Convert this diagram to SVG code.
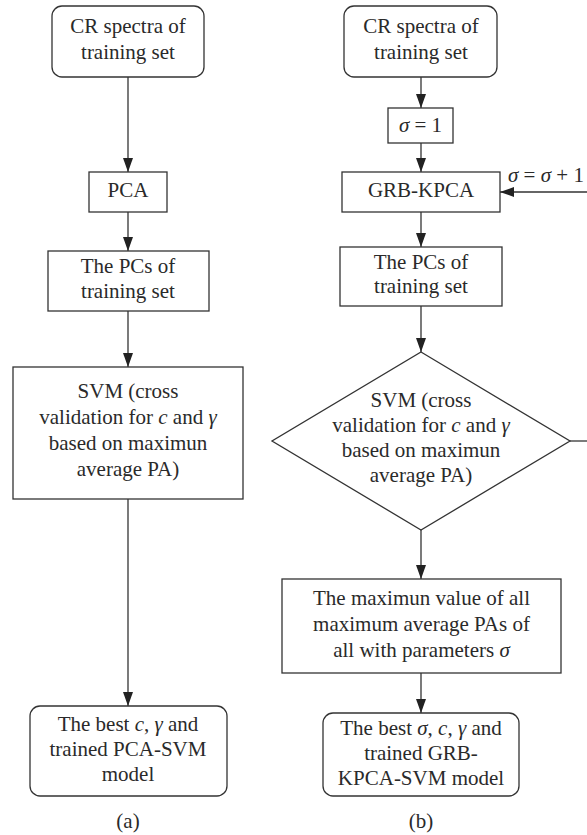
<svg xmlns="http://www.w3.org/2000/svg" width="587" height="835" viewBox="0 0 587 835" font-family="'Liberation Serif', serif">
<style>
.box{fill:#fff;stroke:#333;stroke-width:1.3}
.ln{fill:none;stroke:#333;stroke-width:1.3}
text{font-family:'Liberation Serif',serif;font-size:21px;fill:#2a2a2a;text-anchor:middle}
.i{font-style:italic}
.s{text-anchor:start}
</style>
<defs>
<marker id="ah" markerWidth="14" markerHeight="10" refX="14" refY="5" orient="auto" markerUnits="userSpaceOnUse">
<path d="M0,0 L14,5 L0,10 Z" fill="#222"/>
</marker>
</defs>
<rect width="587" height="835" fill="#fff"/>
<g id="connectors">
<line class="ln" x1="128" y1="77" x2="128" y2="172" marker-end="url(#ah)"/>
<line class="ln" x1="128" y1="212" x2="128" y2="251" marker-end="url(#ah)"/>
<line class="ln" x1="128" y1="311" x2="128" y2="367" marker-end="url(#ah)"/>
<line class="ln" x1="128" y1="499" x2="128" y2="706" marker-end="url(#ah)"/>
<line class="ln" x1="421" y1="77" x2="421" y2="108" marker-end="url(#ah)"/>
<line class="ln" x1="421" y1="143" x2="421" y2="172" marker-end="url(#ah)"/>
<line class="ln" x1="421" y1="212" x2="421" y2="247" marker-end="url(#ah)"/>
<line class="ln" x1="421" y1="306" x2="421" y2="352" marker-end="url(#ah)"/>
<line class="ln" x1="421" y1="530" x2="421" y2="579" marker-end="url(#ah)"/>
<line class="ln" x1="421" y1="673" x2="421" y2="713" marker-end="url(#ah)"/>
<line class="ln" x1="570" y1="441" x2="590" y2="441"/>
<line class="ln" x1="590" y1="192" x2="500" y2="192" marker-end="url(#ah)"/>
<text class="s" x="508" y="182"><tspan class="i">σ</tspan> = <tspan class="i">σ</tspan> + 1</text>
</g>
<g id="a-start">
<rect class="box" x="52" y="6" width="152" height="71" rx="10"/>
<text x="128" y="33">CR spectra of</text>
<text x="128" y="59">training set</text>
</g>
<g id="a-pca">
<rect class="box" x="89" y="172" width="78" height="40"/>
<text x="128" y="197">PCA</text>
</g>
<g id="a-pcs">
<rect class="box" x="48" y="251" width="161" height="60"/>
<text x="128" y="273">The PCs of</text>
<text x="128" y="298">training set</text>
</g>
<g id="a-svm">
<rect class="box" x="13" y="367" width="230" height="132"/>
<text x="128" y="398">SVM (cross</text>
<text x="128" y="424">validation for <tspan class="i">c</tspan> and <tspan class="i">γ</tspan></text>
<text x="128" y="450">based on maximun</text>
<text x="128" y="476">average PA)</text>
</g>
<g id="a-end">
<rect class="box" x="30" y="706" width="197" height="90" rx="10"/>
<text x="128" y="731">The best <tspan class="i">c</tspan>, <tspan class="i">γ</tspan> and</text>
<text x="128" y="756">trained PCA-SVM</text>
<text x="128" y="781">model</text>
</g>
<text x="128" y="828">(a)</text>
<g id="b-start">
<rect class="box" x="344" y="6" width="153" height="71" rx="10"/>
<text x="421" y="33">CR spectra of</text>
<text x="421" y="59">training set</text>
</g>
<g id="b-sigma">
<rect class="box" x="388" y="108" width="65" height="35"/>
<text x="420.5" y="132"><tspan class="i">σ</tspan> = 1</text>
</g>
<g id="b-kpca">
<rect class="box" x="342" y="172" width="158" height="40"/>
<text x="421" y="197">GRB-KPCA</text>
</g>
<g id="b-pcs">
<rect class="box" x="340" y="247" width="162" height="59"/>
<text x="421" y="269">The PCs of</text>
<text x="421" y="293">training set</text>
</g>
<g id="b-svm">
<polygon class="box" points="421,352 570,441 421,530 272,441"/>
<text x="421" y="407">SVM (cross</text>
<text x="421" y="432">validation for <tspan class="i">c</tspan> and <tspan class="i">γ</tspan></text>
<text x="421" y="457">based on maximun</text>
<text x="421" y="482">average PA)</text>
</g>
<g id="b-max">
<rect class="box" x="282" y="579" width="279" height="94"/>
<text x="421.5" y="605">The maximun value of all</text>
<text x="421.5" y="631">maximum average PAs of</text>
<text x="421.5" y="657">all with parameters <tspan class="i">σ</tspan></text>
</g>
<g id="b-end">
<rect class="box" x="323" y="713" width="196" height="83" rx="10"/>
<text x="421" y="735">The best <tspan class="i">σ</tspan>, <tspan class="i">c</tspan>, <tspan class="i">γ</tspan> and</text>
<text x="421" y="760">trained GRB-</text>
<text x="421" y="785">KPCA-SVM model</text>
</g>
<text x="421" y="828">(b)</text>
</svg>
